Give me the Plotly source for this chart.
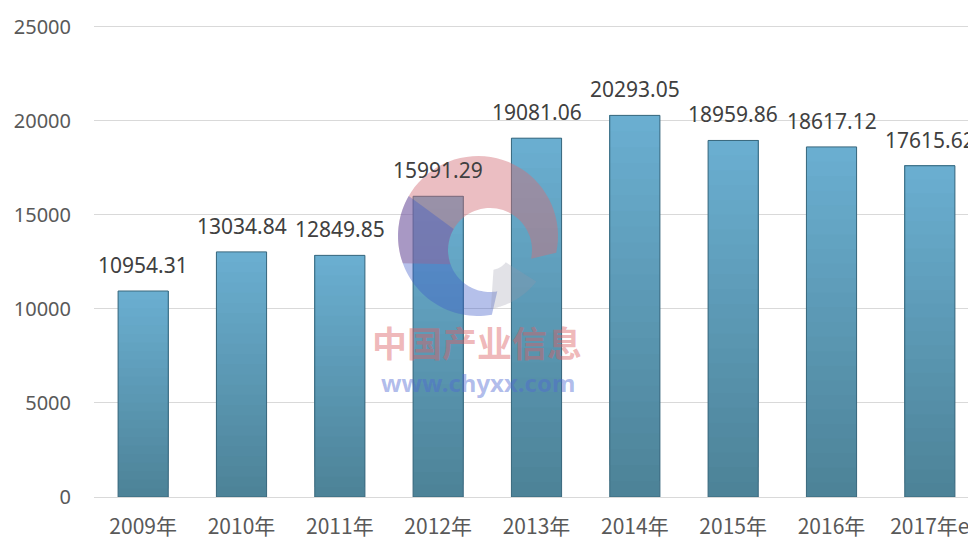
import math
import plotly.graph_objects as go

categories = ["2009年", "2010年", "2011年", "2012年", "2013年", "2014年", "2015年", "2016年", "2017年e"]
values = [10954.31, 13034.84, 12849.85, 15991.29, 19081.06, 20293.05, 18959.86, 18617.12, 17615.62]
value_labels = ["10954.31", "13034.84", "12849.85", "15991.29", "19081.06", "20293.05", "18959.86", "18617.12", "17615.62"]
y_ticks = [0, 5000, 10000, 15000, 20000, 25000]
y_tick_labels = ["0", "5000", "10000", "15000", "20000", "25000"]

W, H = 976, 540
OFF = 8  # page body margin
ML, MR, MT, MB = 86, 5, 17, 51
YMAX = 25100

top_rgb = (106, 174, 208)
bot_rgb = (77, 131, 152)
N = 24

fig = go.Figure()
for k in range(N):
    t = k / (N - 1)
    c = tuple(round(bot_rgb[i] + (top_rgb[i] - bot_rgb[i]) * t) for i in range(3))
    fig.add_trace(go.Bar(
        x=categories,
        y=[v * (1 - k / N) for v in values],
        base=[v * k / N for v in values],
        marker=dict(color="rgb(%d,%d,%d)" % c, line=dict(width=0)),
        hoverinfo="skip", showlegend=False,
    ))

fig.add_trace(go.Bar(
    x=categories, y=values,
    marker=dict(color="rgba(0,0,0,0)", line=dict(color="#3A687D", width=1)),
    showlegend=False,
))

# watermark helpers (screen pixel -> paper)
PX0 = OFF + ML
PX1 = OFF + W - MR
PY0 = OFF + MT
PY1 = OFF + H - MB
def px(x):
    return (x - PX0) / (PX1 - PX0)
def py(y):
    return (PY1 - y) / (PY1 - PY0)

def sector(c_out, c_in, r1, r2, a0, a1, steps=48):
    pts = []
    for i in range(steps + 1):
        a = math.radians(a0 + (a1 - a0) * i / steps)
        pts.append((c_out[0] + r2 * math.cos(a), c_out[1] - r2 * math.sin(a)))
    for i in range(steps, -1, -1):
        a = math.radians(a0 + (a1 - a0) * i / steps)
        pts.append((c_in[0] + r1 * math.cos(a), c_in[1] - r1 * math.sin(a)))
    d = "M " + " L ".join("%.4f,%.4f" % (px(x), py(y)) for x, y in pts) + " Z"
    return d

co = (478, 236)
ci = (490, 250)
shapes = [
    dict(type="path", path=sector(co, ci, 42, 80, 200, -12), xref="paper", yref="paper",
         fillcolor="rgba(210,110,120,0.45)", line=dict(width=0), layer="above"),
    dict(type="path", path=sector(co, ci, 42, 80, 150, 280), xref="paper", yref="paper",
         fillcolor="rgba(60,90,200,0.38)", line=dict(width=0), layer="above"),
    dict(type="path", path=sector(co, ci, 20, 74, 280, 322), xref="paper", yref="paper",
         fillcolor="rgba(150,150,170,0.28)", line=dict(width=0), layer="above"),
]

annotations = [
    dict(text="<b>中国产业信息</b>", x=px(477), y=py(341), xref="paper", yref="paper",
         xanchor="center", yanchor="middle",
         showarrow=False, font=dict(family="Noto Sans CJK SC", size=35, color="rgba(220,95,100,0.45)")),
    dict(text="<b>www.chyxx.com</b>", x=px(478), y=py(382), xref="paper", yref="paper",
         xanchor="center", yanchor="middle",
         showarrow=False, font=dict(family="Noto Sans, sans-serif", size=24, color="rgba(80,105,210,0.45)")),
]
for cat, v, lab in zip(categories, values, value_labels):
    annotations.append(dict(
        x=cat, y=v, xref="x", yref="y", text=lab, showarrow=False,
        xanchor="center", yanchor="bottom", yshift=10,
        font=dict(family="Noto Sans, sans-serif", size=21, color="#404040"),
    ))

fig.update_layout(
    width=W, height=H,
    margin=dict(l=ML, r=MR, t=MT, b=MB, pad=0),
    paper_bgcolor="white", plot_bgcolor="white",
    barmode="overlay", bargap=0.49,
    shapes=shapes, annotations=annotations,
    xaxis=dict(showgrid=False, showline=False, ticks="", tickfont=dict(family="Noto Sans CJK SC", size=21, color="#595959"),
               ticklabelstandoff=15),
    yaxis=dict(range=[0, YMAX], tickvals=y_ticks, ticktext=y_tick_labels, showgrid=True, gridcolor="#D9D9D9", gridwidth=1,
               zeroline=True, zerolinecolor="#D9D9D9", zerolinewidth=1, showline=False, ticks="",
               tickfont=dict(family="Noto Sans, sans-serif", size=20, color="#595959"),
               ticklabelstandoff=22),
)

fig.write_html("out.html")
